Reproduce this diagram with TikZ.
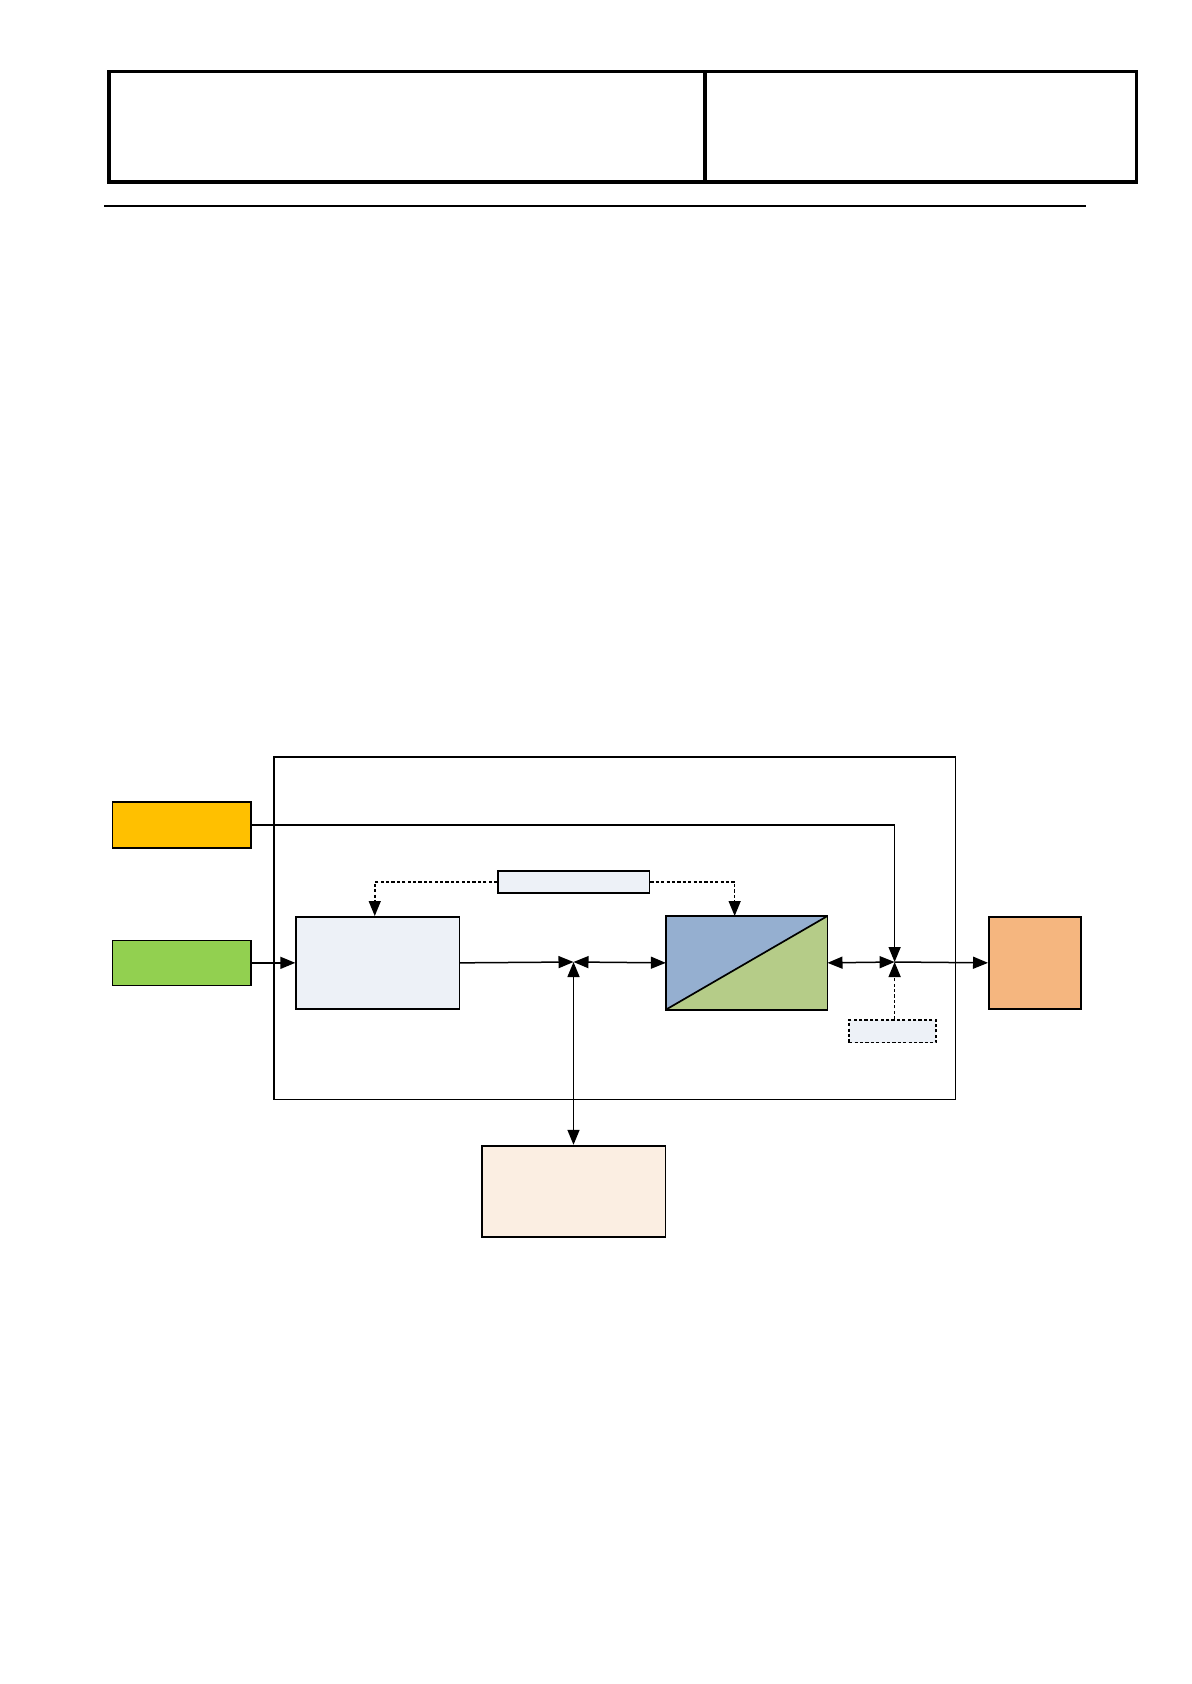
\documentclass[tikz,border=0pt]{standalone}
\usetikzlibrary{arrows.meta}
\definecolor{cYellow}{HTML}{FFC000}
\definecolor{cGreen}{HTML}{92D050}
\definecolor{cLight}{HTML}{EDF1F7}
\definecolor{cBlue}{HTML}{95AFD0}
\definecolor{cOlive}{HTML}{B5CC88}
\definecolor{cOrange}{HTML}{F5B67F}
\definecolor{cCream}{HTML}{FBEEE2}
\tikzset{
  tip/.tip={Triangle[length=7.5pt,width=6pt]},
  blk/.style={draw=black, line width=0.85pt, anchor=north west, inner sep=0pt},
  hdr/.style={draw=black, line width=1.6pt, anchor=north west, inner sep=0pt},
  conn/.style={line width=0.75pt, -tip},
  bconn/.style={line width=0.75pt, tip-tip},
  dconn/.style={line width=0.75pt, dash pattern=on 1.6pt off 1.1pt, -tip},
}
\begin{document}
\begin{tikzpicture}[x=0.5pt,y=-0.5pt]
\useasboundingbox[fill=white] (0,0) rectangle (1191,1684);
% header
\node[hdr, minimum width=298pt, minimum height=55.3pt] (hl) at (107.4,69.8) {};
\node[hdr, minimum width=215.85pt, minimum height=55.3pt] (hr) at (703.4,69.8) {};
\coordinate (r1) at (104,206);
\coordinate (r2) at (1086,206);
\draw[line width=0.7pt] (r1) -- (r2);
% frame
\node[blk, minimum width=340.95pt, minimum height=171.3pt] (frame) at (272.8,756) {};
% boxes
\node[blk, fill=cYellow, minimum width=69.25pt, minimum height=23.15pt] (yel) at (111.7,801) {};
\node[blk, fill=cGreen, minimum width=69.25pt, minimum height=22.5pt] (grn) at (111.7,939.5) {};
\node[blk, fill=cLight, minimum width=75.7pt, minimum height=11.25pt] (ctrl) at (497.2,869.9) {};
\node[blk, fill=cLight, minimum width=81.6pt, minimum height=46pt] (lb) at (295.3,916) {};
\node[blk, minimum width=80pt, minimum height=46pt] (sp) at (665.8,916) {};
\fill[cBlue] (sp.north west) -- (sp.north east) -- (sp.south west) -- cycle;
\fill[cOlive] (sp.north east) -- (sp.south east) -- (sp.south west) -- cycle;
\draw[line width=0.85pt] (sp.north west) rectangle (sp.south east);
\draw[line width=0.85pt] (sp.south west) -- (sp.north east);
\node[blk, fill=cCream, minimum width=91.8pt, minimum height=45.6pt] (bot) at (481.1,1144.8) {};
\node[blk, fill=cLight, dash pattern=on 1.6pt off 1.1pt, minimum width=43.5pt, minimum height=11.3pt] (sd) at (848.4,1019.1) {};
\node[blk, fill=cOrange, minimum width=46.15pt, minimum height=46pt] (org) at (988,916) {};
% junctions
\coordinate (j1) at (573.5,962);
\coordinate (j2) at (894.6,962);
% connectors
\draw[conn] (grn.east) -- (lb.west);
\draw[conn] (lb.east) -- (j1);
\draw[bconn] (j1) -- (sp.west);
\draw[bconn] (j1) -- (j1 |- bot.north);
\draw[bconn] (sp.east) -- (j2);
\draw[conn] (yel.east) -| (j2);
\draw[dconn] (sd.north -| j2) -- (j2);
\draw[conn] (j2) -- (org.west);
\draw[dconn] (ctrl.west) -| ([xshift=-1.5pt]lb.north);
\draw[dconn] (ctrl.east) -| ([xshift=-6pt]sp.north);
\end{tikzpicture}
\end{document}
